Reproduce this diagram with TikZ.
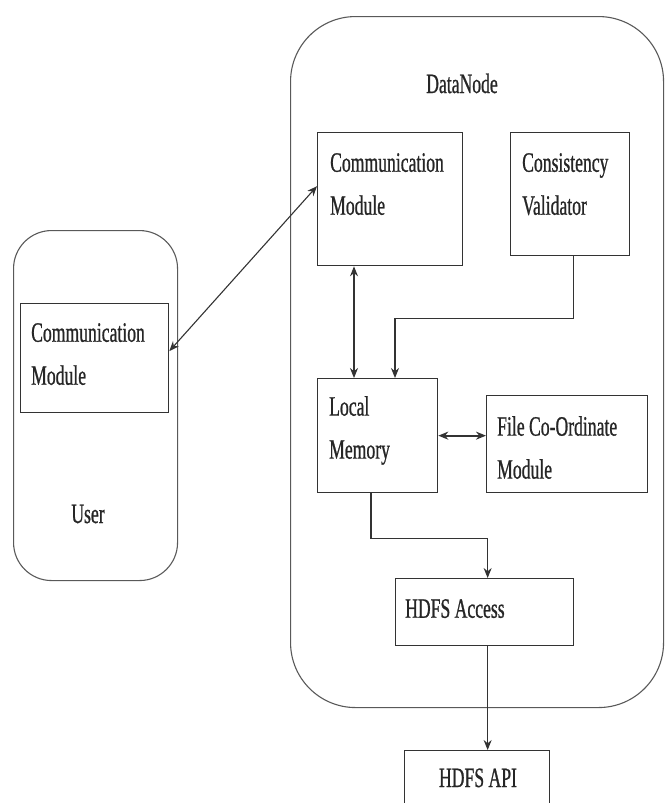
\documentclass[tikz,border=0pt]{standalone}
\usepackage{fontspec}
\setmainfont{Liberation Serif}[FakeStretch=0.63,FakeBold=0.8]
\usetikzlibrary{arrows.meta}
\begin{document}
\begin{tikzpicture}[x=1pt,y=-1pt,
  box/.style={draw=black!80, line width=1.3pt, inner sep=0pt, anchor=north west},
  cont/.style={draw=black!65, line width=1.1pt, inner sep=0pt, anchor=north west, rounded corners=#1},
  txt/.style={font=\fontsize{28}{43}\selectfont, align=left, inner sep=0pt, anchor=north west, text=black!85},
  lbl/.style={font=\fontsize{28}{43}\selectfont, inner sep=0pt, anchor=base, text=black!85},
  tip/.tip={Stealth[length=10pt,width=8pt]},
  arr/.style={draw=black!80, line width=1.1pt, -tip},
  darr/.style={draw=black!80, line width=1.1pt, tip-tip}
]
\useasboundingbox (0,0) rectangle (665,803);
\clip (0,0) rectangle (665,803);

% containers
\node[cont=38pt, minimum width=164pt, minimum height=350pt] (user) at (13,230) {};
\node[cont=65pt, minimum width=373pt, minimum height=691pt] (dn) at (290,16) {};
\node[lbl] (userlbl) at (88,523) {User};
\node[lbl] (dnlbl) at (462,93) {DataNode};

% boxes
\node[box, minimum width=148pt, minimum height=109pt] (ucm) at (20,303) {};
\node[box, minimum width=145pt, minimum height=133pt] (cm) at (317,132) {};
\node[box, minimum width=119pt, minimum height=123pt] (cv) at (510,132) {};
\node[box, minimum width=120pt, minimum height=114pt] (lm) at (317,378) {};
\node[box, minimum width=161pt, minimum height=97pt] (fcm) at (486,395) {};
\node[box, minimum width=178pt, minimum height=67pt] (ha) at (395,578) {};
\node[box, minimum width=145pt, minimum height=80pt] (api) at (404,750) {};

% texts
\node[txt] (ucmt) at ([shift={(11,20)}]ucm.north west) {Communication\\Module};
\node[txt] (cmt) at ([shift={(13,21)}]cm.north west) {Communication\\Module};
\node[txt] (cvt) at ([shift={(12,21)}]cv.north west) {Consistency\\Validator};
\node[txt] (lmt) at ([shift={(12,18)}]lm.north west) {Local\\Memory};
\node[txt] (fcmt) at ([shift={(11,21)}]fcm.north west) {File Co-Ordinate\\Module};
\node[txt] (hat) at ([shift={(10,21)}]ha.north west) {HDFS Access};
\node[lbl] (apit) at (478,787) {HDFS API};

% connectors
\draw[darr] ([yshift=7pt]ucm.east) -- ([yshift=13pt]cm.west);
\draw[darr] ([xshift=37pt]cm.south west) -- ([xshift=37pt]lm.north west);
\draw[arr] ([xshift=3pt]cv.south) -- ++(0,62) -| ([xshift=78pt]lm.north west);
\draw[darr, line width=2.2pt] (lm.east) -- (lm.east -| fcm.west);
\draw[arr] ([xshift=54pt]lm.south west) -- ++(0,45) -| ([xshift=3pt]ha.north);
\draw[arr] ([xshift=3pt]ha.south) -- ([xshift=3pt]ha.south |- api.north);
\end{tikzpicture}
\end{document}
